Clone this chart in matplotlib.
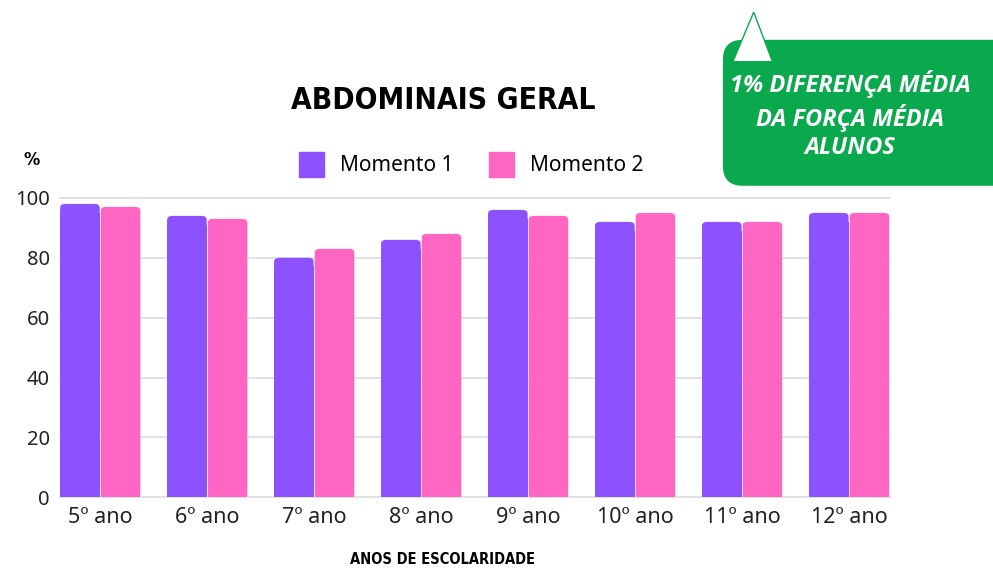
import matplotlib.pyplot as plt
import numpy as np
from matplotlib.patches import FancyBboxPatch, Polygon
from matplotlib.lines import Line2D
from matplotlib.font_manager import findfont, FontProperties

anos = ["5º ano", "6º ano", "7º ano", "8º ano", "9º ano", "10º ano", "11º ano", "12º ano"]
momento1 = [98, 94, 80, 86, 96, 92, 92, 95]
momento2 = [97, 93, 83, 88, 94, 95, 92, 95]
yticks = [0, 20, 40, 60, 80, 100]

roxo = "#8C52FF"
rosa = "#FF66C4"
verde = "#0BA94D"
tick_font = "Noto Sans"

# condensed bold for the headings if there is one, else plain DejaVu at a smaller size
cond = FontProperties(family="DejaVu Sans", weight="bold", stretch="condensed")
has_cond = "Condensed" in findfont(cond, fallback_to_default=True)
t_size, x_size = (21.5, 10.5) if has_cond else (19, 9.5)

fig = plt.figure(figsize=(9.93, 5.77), dpi=100)
ax = fig.add_axes([0.060, 0.138, 0.836, 0.519])

x = np.arange(len(anos))
w = 0.37
b1 = ax.bar(x - w / 2 - 0.005, momento1, w, color=roxo, zorder=3)
b2 = ax.bar(x + w / 2 + 0.005, momento2, w, color=rosa, zorder=3)

# rounded tops: swap each rectangle for a rounded box of the same size
for bars in (b1, b2):
    for r in bars:
        r.set_visible(False)
        rb = FancyBboxPatch((r.get_x(), 0), r.get_width(), r.get_height(),
                            boxstyle="round,pad=0,rounding_size=0.05",
                            mutation_aspect=25, facecolor=r.get_facecolor(),
                            edgecolor="none", zorder=3)
        ax.add_patch(rb)
        ax.bar(r.get_x() + r.get_width() / 2, r.get_height() - 3, r.get_width(),
               color=r.get_facecolor(), zorder=3)

ax.set_xlim(-0.38, 7.38)
ax.set_ylim(0, 100)
ax.set_yticks(yticks)
ax.set_xticks(x)
ax.set_xticklabels(anos, fontsize=15.5, family=tick_font, color="#222222")
ax.set_yticklabels([str(v) for v in yticks], fontsize=14.5, family=tick_font, color="#222222")
ax.tick_params(length=0, pad=7)
ax.grid(axis="y", color="#dddddd", linewidth=1.2, zorder=0)
for g in ax.get_ygridlines():
    g.set_clip_on(False)
for s in ax.spines.values():
    s.set_visible(False)

fig.text(0.446, 0.826, "ABDOMINAIS GERAL", ha="center", va="center",
         fontsize=t_size, fontweight="heavy", family="DejaVu Sans",
         fontstretch="condensed")
fig.text(0.032, 0.722, "%", ha="center", va="center", fontsize=13,
         fontweight="bold", family="DejaVu Sans", fontstretch="condensed")
fig.text(0.446, 0.017, "ANOS DE ESCOLARIDADE", ha="center", va="bottom",
         fontsize=x_size, fontweight="bold", family="DejaVu Sans",
         fontstretch="condensed")

handles = [Line2D([], [], marker="s", ls="", markersize=18, color=roxo),
           Line2D([], [], marker="s", ls="", markersize=18, color=rosa)]
fig.legend(handles, ["Momento 1", "Momento 2"], loc="center", bbox_to_anchor=(0.47, 0.713),
           ncol=2, frameon=False, prop={"family": tick_font, "size": 15},
           handletextpad=0.4, columnspacing=1.3)

# green callout
box = FancyBboxPatch((0.728, 0.678), 0.30, 0.253, transform=fig.transFigure,
                     boxstyle="round,pad=0,rounding_size=0.02", mutation_aspect=1.7,
                     facecolor=verde, edgecolor="none", clip_on=False)
fig.add_artist(box)
tri = Polygon([[0.738, 0.893], [0.778, 0.893], [0.759, 0.979]], closed=True,
              transform=fig.transFigure, facecolor="white", edgecolor=verde, linewidth=1)
fig.add_artist(tri)
fig.text(0.856, 0.8, "1% DIFERENÇA MÉDIA\nDA FORÇA MÉDIA\nALUNOS", ha="center", va="center",
         color="white", fontsize=17, fontweight="bold", fontstyle="italic",
         family="Open Sans", linespacing=1.25)

fig.savefig("out.png", dpi=100)
